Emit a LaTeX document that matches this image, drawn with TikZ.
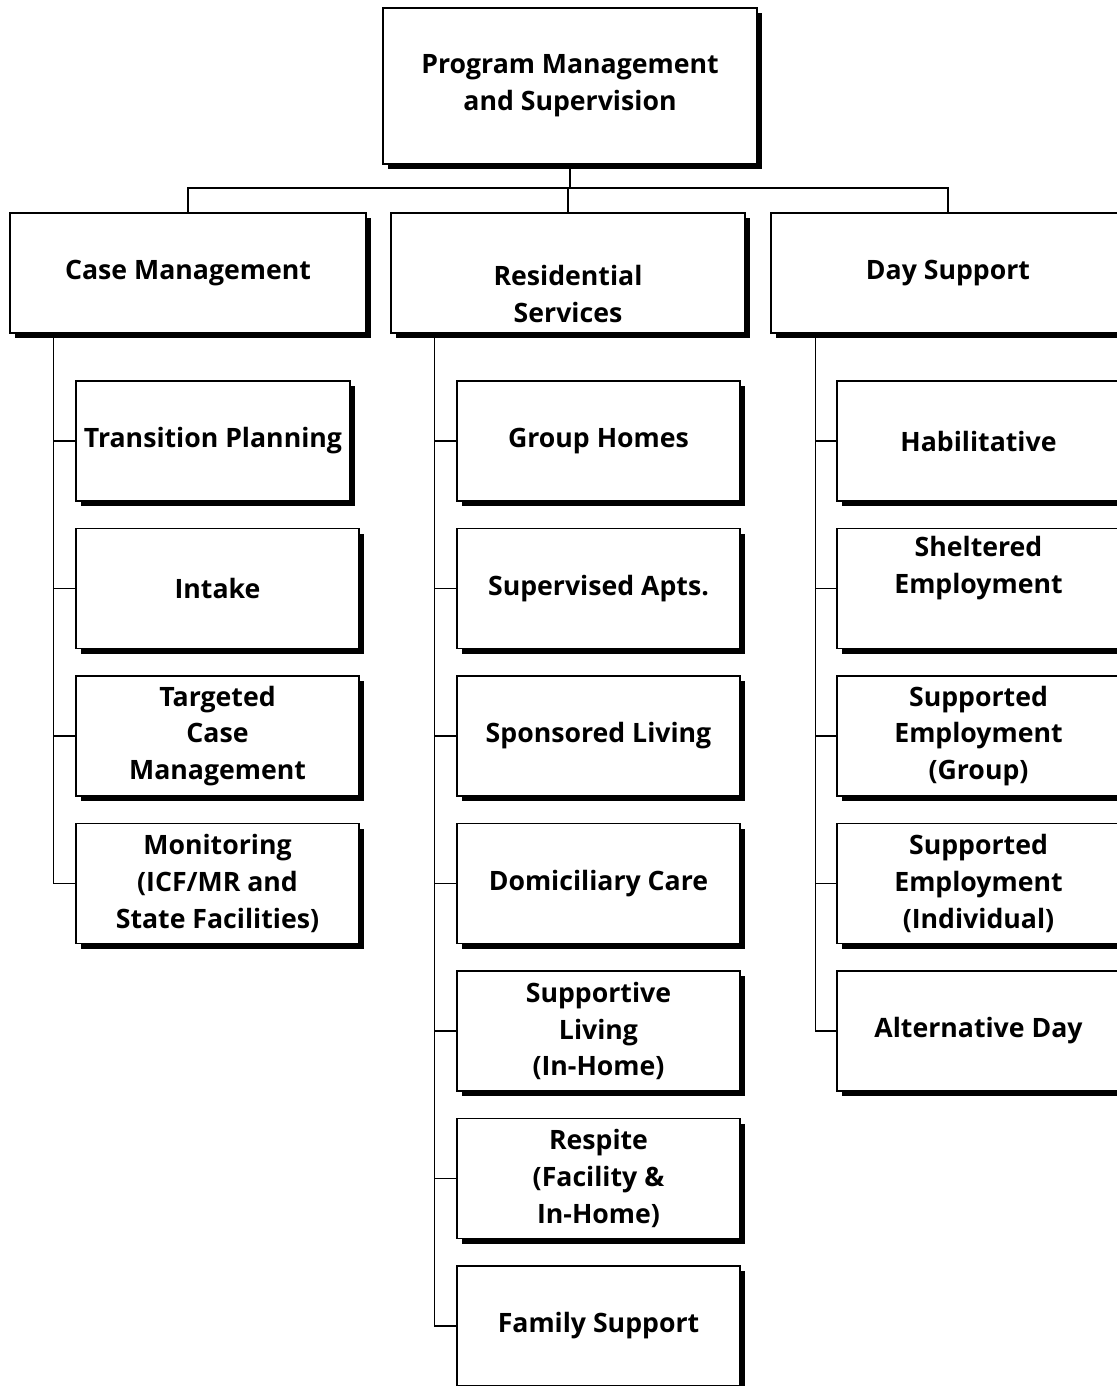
\documentclass[tikz,border=0pt]{standalone}
\usepackage{fontspec}
\setmainfont{Open Sans}
\usepackage{tikz}
\usetikzlibrary{positioning,calc,shadows}

\begin{document}
\begin{tikzpicture}[
  x=0.75pt, y=-0.75pt,
  orgBox/.style={draw=black, fill=white, line width=1pt, rectangle, align=center,
    inner sep=0pt, font=\fontsize{20}{27.5}\selectfont\bfseries,
    drop shadow={shadow xshift=3.8pt, shadow yshift=-3.8pt, fill=black, opacity=1}},
  headBox/.style={orgBox, minimum width=354*0.75pt, minimum height=120*0.75pt},
  leafBox/.style={orgBox, minimum width=283*0.75pt, minimum height=120*0.75pt},
  conn/.style={line width=1pt, color=black},
]
\clip (0,0) rectangle (1117,1386);
\def\rowA{441}
\def\rowP{147.5}
% top of the chart
\node[orgBox, minimum width=374*0.75pt, minimum height=156*0.75pt] (top) at (570,86)
  {Program Management\\and Supervision};
\node[headBox, minimum width=356*0.75pt] (cm) at (188,273) {Case Management};
\node[headBox] (rs) at (568,273) {\strut\\Residential\\Services};
\node[headBox] (ds) at (948,273) {Day Support};
\coordinate (bus) at (570,188);
\draw[conn] (top.south) -- (bus);
\draw[conn] (cm.north) |- (bus) -| (ds.north);
\draw[conn] (rs.north) -- (rs.north |- bus);
% case management column
\node[leafBox, minimum width=274*0.75pt] (cm1) at (213,\rowA) {Transition Planning};
\foreach \i/\lbl in {2/{Intake}, 3/{Targeted\\Case\\Management},
  4/{Monitoring\\(ICF/MR and\\State Facilities)}} {
  \pgfmathsetmacro{\yy}{\rowA + (\i-1)*\rowP}
  \node[leafBox] (cm\i) at (217.5,\yy) {\lbl};
}
\coordinate (cmSpine) at ($(cm.south west)+(44,0)$);
\draw[conn] (cmSpine) |- (cm4.west);
\foreach \i in {1,2,3} \draw[conn] (cm\i.west) -- (cmSpine |- cm\i.west);
% residential column
\foreach \i/\lbl in {1/{Group Homes}, 2/{Supervised Apts.}, 3/{Sponsored Living},
  4/{Domiciliary Care}, 5/{Supportive\\Living\\(In-Home)},
  6/{Respite\\(Facility \&\\In-Home)}, 7/{Family Support}} {
  \pgfmathsetmacro{\yy}{\rowA + (\i-1)*\rowP}
  \node[leafBox] (rs\i) at (598.5,\yy) {\lbl};
}
\coordinate (rsSpine) at ($(rs.south west)+(44,0)$);
\draw[conn] (rsSpine) |- (rs7.west);
\foreach \i in {1,...,6} \draw[conn] (rs\i.west) -- (rsSpine |- rs\i.west);
% day support column
\foreach \i/\lbl in {1/{Habilitative}, 2/{Sheltered\\Employment\\\strut},
  3/{Supported\\Employment\\(Group)}, 4/{Supported\\Employment\\(Individual)},
  5/{Alternative Day}} {
  \pgfmathsetmacro{\yy}{\rowA + (\i-1)*\rowP}
  \node[leafBox] (ds\i) at (978.5,\yy) {\lbl};
}
\coordinate (dsSpine) at ($(ds.south west)+(45,0)$);
\draw[conn] (dsSpine) |- (ds5.west);
\foreach \i in {1,...,4} \draw[conn] (ds\i.west) -- (dsSpine |- ds\i.west);
\end{tikzpicture}
\end{document}
